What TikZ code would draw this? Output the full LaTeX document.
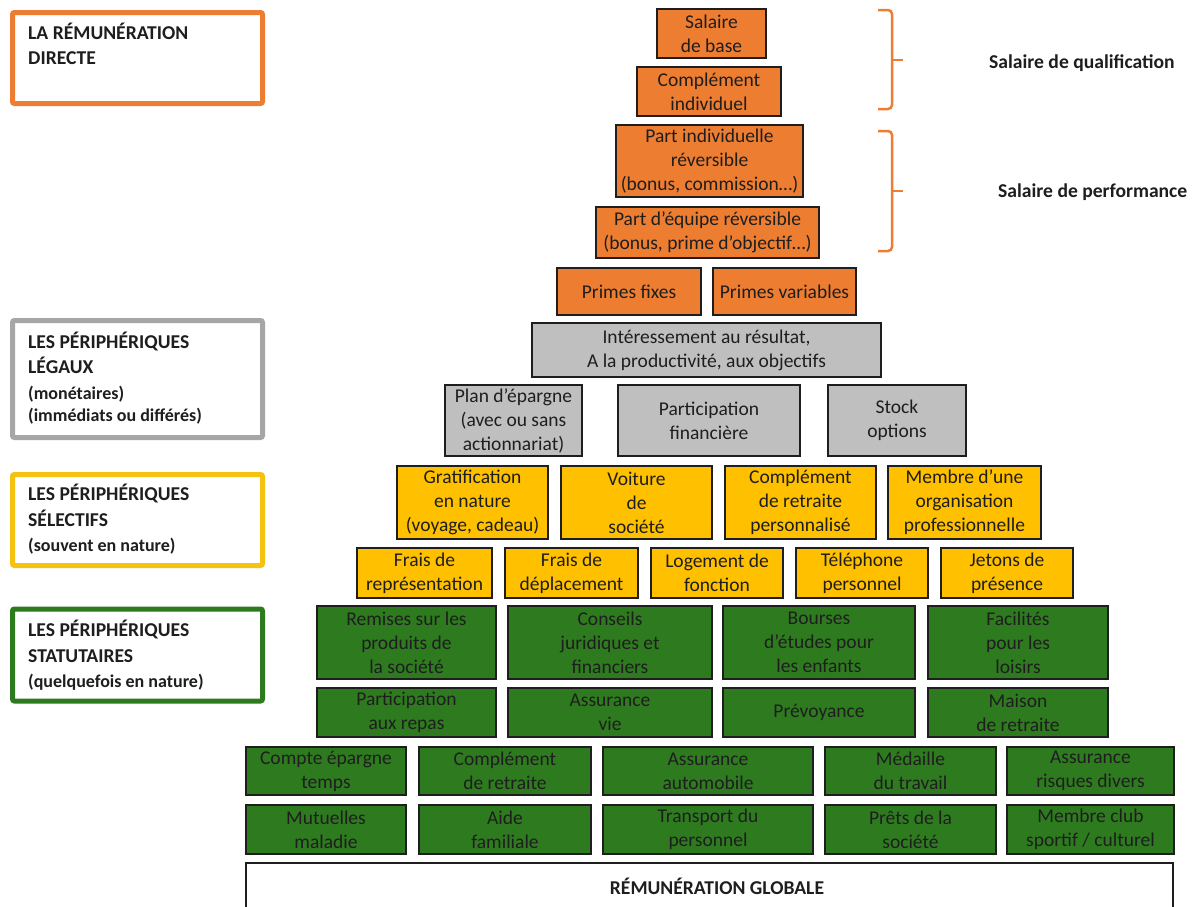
\documentclass[tikz,border=0pt]{standalone}
\usepackage{fontspec}
\setmainfont{Carlito}
\usetikzlibrary{shadows}
\definecolor{orbox}{HTML}{ED7D31}
\definecolor{grbox}{HTML}{BFBFBF}
\definecolor{yebox}{HTML}{FFC000}
\definecolor{gnbox}{RGB}{46,122,31}
\definecolor{ydline}{HTML}{F5C211}
\definecolor{gyline}{HTML}{A6A6A6}
\definecolor{txt}{HTML}{1E1E1E}
\newcommand\pb[7]{\node[#1, minimum width={(#5-#3)*1pt}, minimum height={(#6-#4)*1pt}] (#2) at ({(#3+#5)/2},{(#4+#6)/2}) {#7};}
\tikzset{
  pbox/.style={draw=txt, line width=1.2pt, inner sep=0pt, align=center,
    font=\fontsize{19.5}{24}\selectfont, text=txt,
    drop shadow={shadow xshift=1.3pt, shadow yshift=-1.3pt, fill=black, opacity=0.55}},
  obox/.style={pbox, fill=orbox},
  gbox/.style={pbox, fill=grbox},
  ybox/.style={pbox, fill=yebox},
  nbox/.style={pbox, fill=gnbox},
  legbox/.style={line width=5pt, fill=white, rounded corners=2pt, inner sep=0pt},
  legtitle/.style={anchor=base west, inner sep=0pt, font=\fontsize{19.6}{24}\selectfont\bfseries, text=txt},
  legsub/.style={anchor=base west, inner sep=0pt, font=\fontsize{18}{22}\selectfont\bfseries, text=txt},
  sidelabel/.style={anchor=west, inner sep=0pt, font=\fontsize{19.6}{24}\selectfont\bfseries, text=txt},
  brace/.style={draw=orbox, line width=2.5pt, rounded corners=4pt}
}
\begin{document}
\begin{tikzpicture}[x=1pt,y=-1pt]
\path[use as bounding box] (0,0) rectangle (1192,906);
\clip (0,0) rectangle (1192,906);
\fill[white] (0,0) rectangle (1192,906);
% legend boxes
\pb{legbox, draw=orbox}{lo}{12.5}{12.5}{262.5}{103.5}{}
\pb{legbox, draw=gyline}{lg}{12.5}{320.5}{262.5}{437.5}{}
\pb{legbox, draw=ydline}{ly}{12.5}{474.5}{262.5}{565.5}{}
\pb{legbox, draw=gnbox}{ln}{12.5}{609}{262.5}{701}{}
\node[legtitle] (lo1) at (28,39.5) {LA RÉMUNÉRATION};
\node[legtitle] (lo2) at (28,64.5) {DIRECTE};
\node[legtitle] (lg1) at (28,348.5) {LES PÉRIPHÉRIQUES};
\node[legtitle] (lg2) at (28,373.5) {LÉGAUX};
\node[legsub] (lg3) at (28,399) {(monétaires)};
\node[legsub] (lg4) at (28,421) {(immédiats ou différés)};
\node[legtitle] (ly1) at (28,500.5) {LES PÉRIPHÉRIQUES};
\node[legtitle] (ly2) at (28,526.5) {SÉLECTIFS};
\node[legsub] (ly3) at (28,551) {(souvent en nature)};
\node[legtitle] (ln1) at (28,636.5) {LES PÉRIPHÉRIQUES};
\node[legtitle] (ln2) at (28,662.5) {STATUTAIRES};
\node[legsub] (ln3) at (28,687) {(quelquefois en nature)};
% braces
\draw[brace] (878,10) -- (892,10) -- (892,109) -- (878,109);
\draw[brace] (892,60) -- (903,60);
\draw[brace] (878,131) -- (892,131) -- (892,251) -- (878,251);
\draw[brace] (892,191) -- (903,191);
\node[sidelabel] (sq) at (989,63) {Salaire de qualification};
\node[sidelabel] (sp) at (998,192) {Salaire de performance};
% orange
\pb{obox}{sb}{657}{9}{766}{58}{Salaire\\de base}
\pb{obox}{ci}{637}{67}{781}{116}{Complément\\individuel}
\pb{obox}{pi}{616}{125}{803}{197}{Part individuelle\\réversible\\(bonus, commission…)}
\pb{obox}{pe}{596}{207}{819}{258}{Part d’équipe réversible\\(bonus, prime d’objectif…)}
\pb{obox}{pf}{557}{268}{701}{315}{Primes fixes}
\pb{obox}{pv}{713}{268}{856}{315}{Primes variables}
% gray
\pb{gbox}{ir}{532}{323}{881}{377}{Intéressement au résultat,\\A la productivité, aux objectifs}
\pb{gbox}{pl}{445}{385}{582}{456}{Plan d’épargne\\(avec ou sans\\actionnariat)}
\pb{gbox}{pa}{618}{385}{800}{456}{Participation\\financière}
\pb{gbox}{so}{828}{385}{966}{456}{Stock\\options}
% yellow
\pb{ybox}{gr}{397}{466}{548}{539}{Gratification\\en nature\\(voyage, cadeau)}
\pb{ybox}{vo}{561}{466}{712}{539}{Voiture\\de\\société}
\pb{ybox}{cp}{725}{466}{876}{539}{Complément\\de retraite\\personnalisé}
\pb{ybox}{mo}{888}{466}{1041}{539}{Membre d’une\\organisation\\professionnelle}
\pb{ybox}{fr}{357}{548}{492}{598}{Frais de\\représentation}
\pb{ybox}{fd}{505}{548}{638}{598}{Frais de\\déplacement}
\pb{ybox}{lf}{651}{548}{783}{598}{Logement de\\fonction}
\pb{ybox}{tp}{796}{548}{928}{598}{Téléphone\\personnel}
\pb{ybox}{jp}{941}{548}{1073}{598}{Jetons de\\présence}
% green
\pb{nbox}{rp}{317}{606}{496}{679}{Remises sur les\\produits de\\la société}
\pb{nbox}{cj}{508}{606}{712}{679}{Conseils\\juridiques et\\financiers}
\pb{nbox}{be}{723}{606}{915}{679}{Bourses\\d’études pour\\les enfants}
\pb{nbox}{fl}{928}{606}{1108}{679}{Facilités\\pour les\\loisirs}
\pb{nbox}{pr}{317}{688}{496}{737}{Participation\\aux repas}
\pb{nbox}{av}{508}{688}{712}{737}{Assurance\\vie}
\pb{nbox}{py}{723}{688}{915}{737}{Prévoyance}
\pb{nbox}{mr}{928}{688}{1108}{737}{Maison\\de retraite}
\pb{nbox}{ce}{246}{747}{406}{795}{Compte épargne\\temps}
\pb{nbox}{cr}{419}{747}{591}{795}{Complément\\de retraite}
\pb{nbox}{aa}{603}{747}{813}{795}{Assurance\\automobile}
\pb{nbox}{md}{825}{747}{996}{795}{Médaille\\du travail}
\pb{nbox}{ar}{1007}{747}{1174}{795}{Assurance\\risques divers}
\pb{nbox}{mm}{246}{805}{406}{854}{Mutuelles\\maladie}
\pb{nbox}{af}{419}{805}{591}{854}{Aide\\familiale}
\pb{nbox}{tr}{603}{805}{813}{854}{Transport du\\personnel}
\pb{nbox}{ps}{825}{805}{996}{854}{Prêts de la\\société}
\pb{nbox}{mc}{1007}{805}{1174}{854}{Membre club\\sportif / culturel}
% global
\pb{pbox, fill=white}{rg}{246}{863}{1173}{925}{}
\node[inner sep=0pt, font=\fontsize{19.6}{24}\selectfont\bfseries, text=txt] (rgt) at (717,886) {RÉMUNÉRATION GLOBALE};
\end{tikzpicture}
\end{document}
